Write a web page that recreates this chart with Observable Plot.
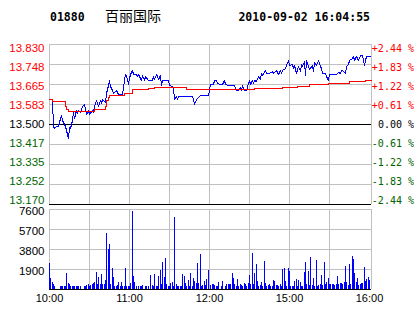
<!DOCTYPE html>
<html><head><meta charset="utf-8">
<script src="https://cdn.jsdelivr.net/npm/d3@7"></script>
<script src="https://cdn.jsdelivr.net/npm/@observablehq/plot@0.6"></script>
<style>
html,body{margin:0;padding:0;background:#fff;}
#wrap{position:relative;width:414px;height:314px;overflow:hidden;background:#fff;}
#wrap svg{position:absolute;left:0;}
</style></head><body><div id="wrap"></div>
<script>
const stockCode = "01880";
const stockName = "百丽国际";
const stamp = "2010-09-02 16:04:55";
const prevClose = 13.5;
const priceTicks = [13.830, 13.748, 13.665, 13.583, 13.500, 13.417, 13.335, 13.252, 13.170];
const pctLabels = ["+2.44 %", "+1.83 %", "+1.22 %", "+0.61 %", "0.00 %", "-0.61 %", "-1.22 %", "-1.83 %", "-2.44 %"];
const volTicks = [7600, 5700, 3800, 1900];
const timeTicks = [0, 60, 120, 180, 240];
const timeLabels = ["10:00", "11:00", "12:00", "15:00", "16:00"];
const gridMinutes = [30, 60, 90, 120, 150, 180, 210];

// minute index since 10:00 (trading minutes) and last price
const priceMin = [2,3,4,5,7,8,9,10,12,13,14,15,16,17,18,19,20,21,22,23,24,25,26,27,28,29,30,32,33,34,35,37,38,39,40,42,43,44,45,46,47,48,50,51,52,55,56,57,58,59,60,61,62,63,65,66,67,69,70,71,72,74,77,78,79,80,81,82,83,84,85,87,89,90,92,93,94,95,96,97,104,107,108,109,110,112,113,119,120,121,123,124,125,126,128,130,131,132,134,139,140,142,143,144,145,146,148,149,150,151,152,153,154,155,157,158,159,160,162,163,165,167,168,170,172,173,174,175,177,178,179,180,182,183,184,185,187,188,189,190,191,192,193,194,195,197,198,199,200,202,203,204,205,207,208,209,210,215,217,218,219,220,222,223,224,225,227,228,229,230,231,232,233,235,236,237,238,240,241];
const priceVal = [13.593,13.490,13.483,13.490,13.493,13.525,13.538,13.518,13.493,13.476,13.442,13.488,13.483,13.518,13.548,13.525,13.559,13.545,13.559,13.548,13.562,13.573,13.583,13.563,13.542,13.559,13.542,13.559,13.548,13.573,13.597,13.573,13.600,13.587,13.602,13.589,13.628,13.662,13.683,13.655,13.639,13.628,13.639,13.630,13.624,13.624,13.683,13.706,13.702,13.666,13.689,13.706,13.721,13.706,13.706,13.699,13.706,13.683,13.702,13.683,13.699,13.683,13.683,13.696,13.685,13.706,13.696,13.686,13.703,13.662,13.683,13.683,13.680,13.662,13.655,13.652,13.603,13.617,13.603,13.614,13.614,13.614,13.603,13.584,13.603,13.611,13.618,13.618,13.641,13.666,13.666,13.683,13.683,13.669,13.666,13.666,13.683,13.666,13.662,13.662,13.641,13.641,13.651,13.641,13.662,13.641,13.641,13.669,13.683,13.666,13.683,13.669,13.683,13.676,13.696,13.686,13.710,13.703,13.721,13.710,13.710,13.720,13.710,13.721,13.706,13.721,13.710,13.724,13.731,13.745,13.762,13.745,13.749,13.731,13.745,13.710,13.738,13.717,13.748,13.738,13.758,13.703,13.762,13.738,13.727,13.745,13.717,13.754,13.745,13.765,13.740,13.731,13.710,13.710,13.696,13.683,13.706,13.706,13.714,13.710,13.721,13.721,13.710,13.738,13.749,13.765,13.772,13.779,13.762,13.779,13.772,13.765,13.786,13.786,13.745,13.765,13.779,13.782,13.782];

// average price (step line)
const avgMin = [0,2,12,13,14,34,42,43,44,45,56,62,74,79,103,119,154,175,186,195,209,225,237,241.5];
const avgVal = [13.603,13.596,13.575,13.562,13.555,13.562,13.575,13.600,13.612,13.621,13.628,13.644,13.649,13.651,13.646,13.644,13.649,13.653,13.658,13.665,13.669,13.676,13.680,13.680];

// volume per minute, minute 0..240
const volume = [
2470,1070,700,475,285,0,0,0,285,285,
285,285,285,1520,570,475,285,285,285,285,
285,285,285,285,0,0,285,285,380,475,
285,380,475,570,700,1615,475,1140,475,1425,
475,475,855,5320,3800,4275,475,2000,1140,285,
285,380,700,285,700,285,285,2000,285,285,
285,570,7410,1235,700,285,0,285,285,285,
380,0,285,285,285,0,1330,380,285,1425,
285,285,1235,1805,475,2565,1140,2945,475,285,
285,570,700,285,6840,475,285,285,285,285,
1425,1235,570,285,855,285,1520,285,1045,760,
570,2470,570,3325,285,380,760,380,950,1805,
0,380,475,475,380,285,285,665,0,285,
760,0,285,475,475,475,475,1520,1045,475,
285,950,285,475,380,285,570,475,285,570,
1330,475,3420,475,1520,2375,760,285,380,665,
285,2660,570,285,380,475,285,285,855,760,
380,380,285,475,285,1900,2000,760,285,2000,
1710,285,285,285,760,950,285,855,665,285,
285,1615,2565,475,1710,380,3040,380,1045,285,
2755,285,380,475,1330,380,2565,475,665,1045,
475,475,475,475,380,475,1235,475,570,570,
475,665,2185,665,380,2375,475,3135,2850,1520,
665,1045,380,475,570,570,2090,760,950,1140,855];

const RED = "#ff0000", GREEN = "#006400", BLUE = "#0000ff", GRID = "#c0c0c0";
const priceData = priceMin.map((m, i) => ({m, p: priceVal[i]}));
const avgData = avgMin.map((m, i) => ({m, p: avgVal[i]}));
const volData = volume.map((v, m) => ({m, v})).filter(d => d.v > 0);
const labelColor = v => v > prevClose + 1e-9 ? RED : (v < prevClose - 1e-9 ? GREEN : "#000");
const squeeze = v => prevClose + (v - prevClose) * 0.952;
const xDomain = [0, 241.5];
const frameX = [0, ...gridMinutes, 241.5];

const wrap = document.getElementById("wrap");

const price = Plot.plot({
  width: 414, height: 206,
  marginTop: 44, marginBottom: 2, marginLeft: 49, marginRight: 43,
  x: {domain: xDomain, round: true, axis: null},
  y: {domain: [13.17, 13.83], round: true, axis: null},
  color: {type: "identity"},
  style: {fontFamily: "'Liberation Sans', Arial, sans-serif", fontSize: "11.5px", background: "transparent", overflow: "visible"},
  marks: [
    Plot.ruleX(frameX, {stroke: GRID}),
    Plot.ruleY(priceTicks.filter(v => v !== 13.5 && v !== 13.17), {stroke: GRID}),
    Plot.ruleY([13.5, 13.17], {stroke: "#000"}),
    Plot.line(priceData, {x: "m", y: "p", stroke: BLUE, strokeWidth: 1}),
    Plot.line(avgData, {x: "m", y: "p", stroke: RED, strokeWidth: 1, curve: "step-after"}),
    Plot.text(priceTicks, {y: squeeze, frameAnchor: "left", dx: -5, textAnchor: "end",
      text: d => d.toFixed(3), fill: labelColor, fontSize: 11.5}),
    Plot.text(priceTicks, {y: squeeze, frameAnchor: "right", dx: 42.5, textAnchor: "end",
      text: (d, i) => pctLabels[i], fill: labelColor, fontFamily: "'DejaVu Sans Mono', monospace", fontSize: 10})
  ]
});
price.setAttribute("shape-rendering", "crispEdges");
price.style.top = "0px";
wrap.appendChild(price);

const vol = Plot.plot({
  width: 414, height: 108,
  marginTop: 3, marginBottom: 25, marginLeft: 49, marginRight: 43,
  x: {domain: xDomain, round: true},
  y: {domain: [0, 7600], round: true, axis: null},
  style: {fontFamily: "'Liberation Sans', Arial, sans-serif", fontSize: "11px", background: "transparent", overflow: "visible"},
  marks: [
    Plot.ruleX(frameX, {stroke: GRID}),
    Plot.ruleY(volTicks, {stroke: GRID}),
    Plot.ruleX(volData, {x: "m", y1: 0, y2: "v", stroke: BLUE, strokeWidth: 1}),
    Plot.ruleY([0], {stroke: "#000"}),
    Plot.text(volTicks, {y: d => d, frameAnchor: "left", dx: -5, dy: 2, textAnchor: "end",
      text: d => String(d), fill: "#000", fontSize: 11.5}),
    Plot.axisX({ticks: timeTicks, tickSize: 0, tickPadding: 5, label: null, fontSize: 11,
      tickFormat: d => timeLabels[timeTicks.indexOf(d)]})
  ]
});
vol.setAttribute("shape-rendering", "crispEdges");
vol.style.top = "206px";
wrap.appendChild(vol);

const head = d3.create("svg").attr("width", 414).attr("height", 34).style("top", "0px");
head.append("text").attr("x", 50).attr("y", 21)
  .attr("font-family", "'DejaVu Sans Mono', monospace").attr("font-weight", "bold").attr("font-size", 11.5)
  .attr("fill", "#000").text(stockCode);
head.append("text").attr("x", 105).attr("y", 20.5)
  .attr("font-family", "'Noto Sans CJK SC', sans-serif").attr("font-size", 14)
  .attr("fill", "#000").text(stockName);
head.append("text").attr("x", 370).attr("y", 21).attr("text-anchor", "end")
  .attr("font-family", "'DejaVu Sans Mono', monospace").attr("font-weight", "bold").attr("font-size", 11.5)
  .attr("fill", "#000").text(stamp);
wrap.appendChild(head.node());
</script>
</body></html>
